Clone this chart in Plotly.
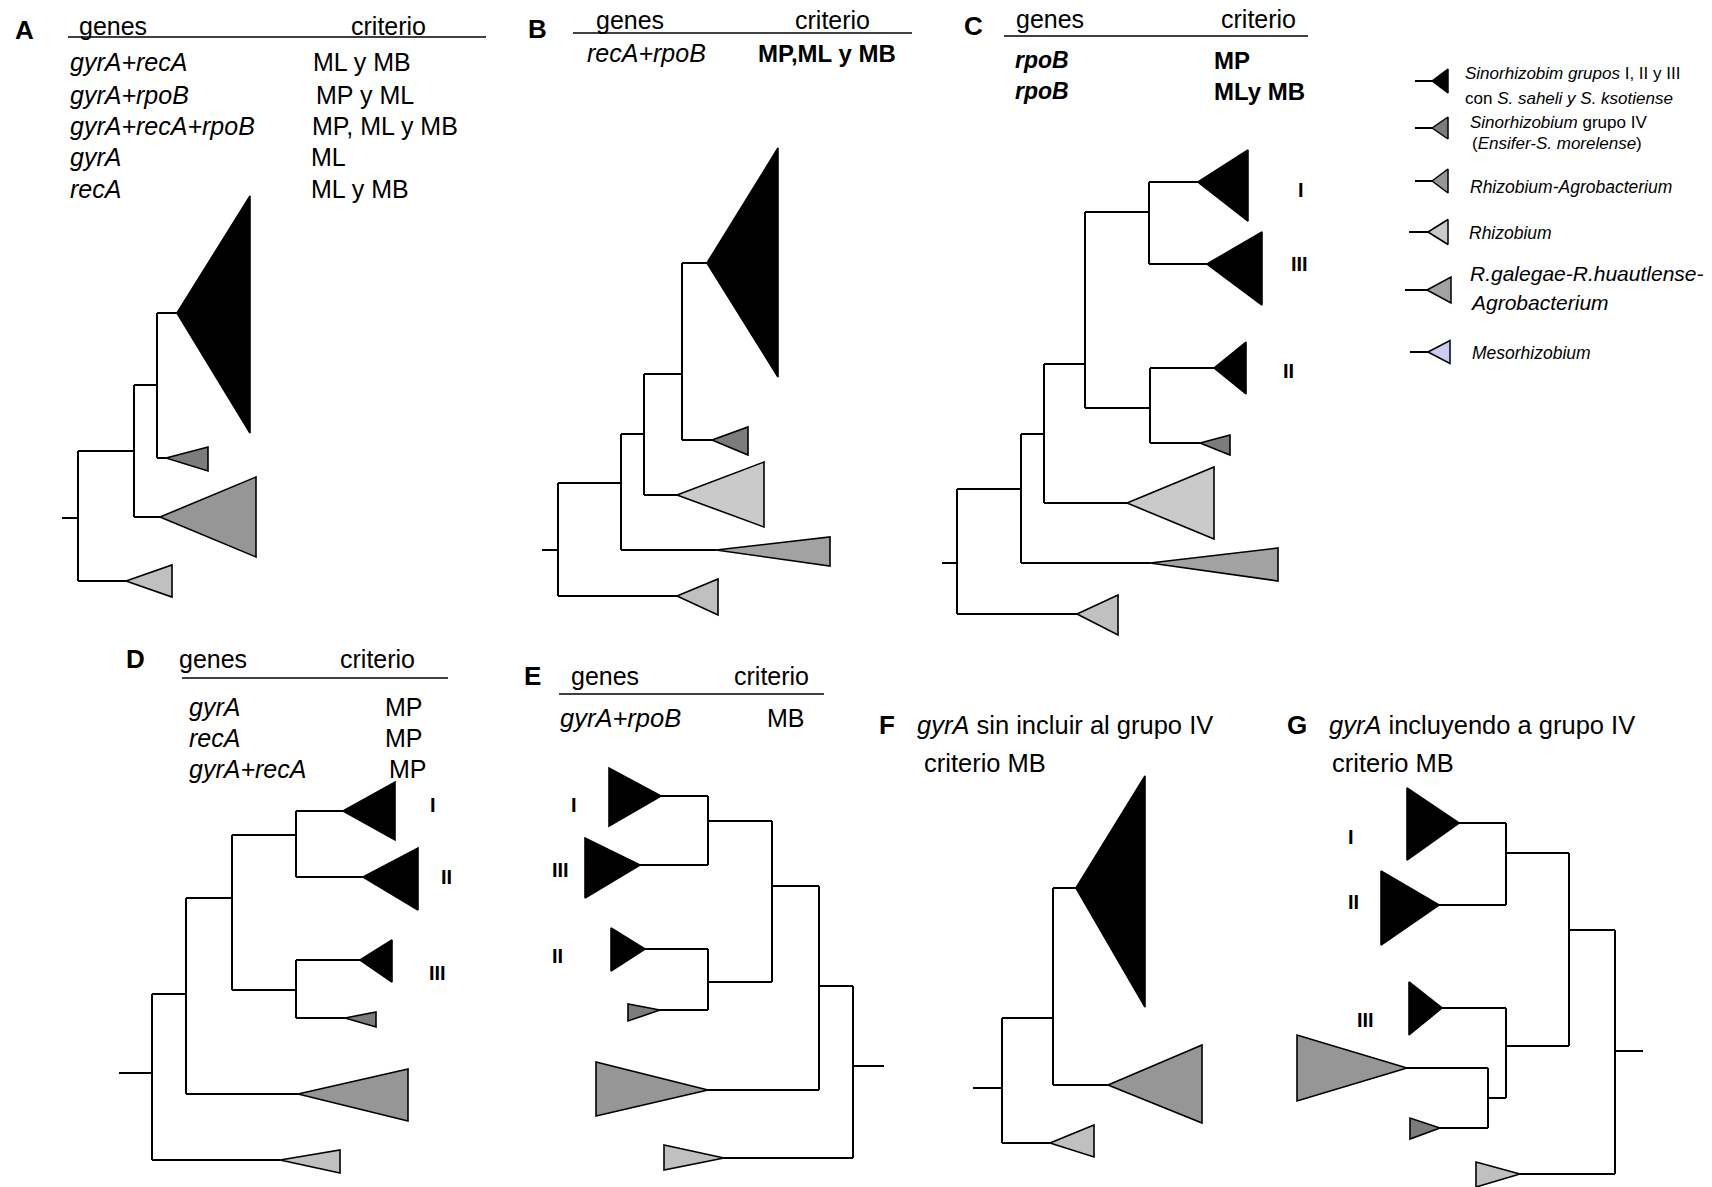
import plotly.graph_objects as go

W, H = 1712, 1187

# ---------------- data ----------------
CLADE_COLORS = {"S": "#000000", "IV": "#7c7c7c", "RA": "#969696", "Rh": "#cacaca",
                "RG": "#a2a2a2", "Out": "#c0c0c0", "Me": "#ccccf4"}

# Each tree: parent index, node depth (x) and node row (y); collapsed clades with base extent
A_parent = [-1, 0, 0, 2, 2, 4, 4]
A_node_x = [78, 126, 134, 160, 157, 177, 166]
A_node_y = [518, 581, 451, 517, 385, 313, 458]
A_clade = [None, "Out", None, "RA", None, "S", "IV"]
A_base_x = [None, 172, None, 256, None, 250, 208]
A_base_lo = [None, 565, None, 477, None, 196, 447]
A_base_hi = [None, 597, None, 557, None, 433, 471]

B_parent = [-1, 0, 0, 2, 2, 4, 4, 6, 6]
B_node_x = [558, 677, 621, 716, 644, 677, 682, 707, 712]
B_node_y = [550, 596, 483, 550, 434, 495, 374, 263, 440]
B_clade = [None, "Out", None, "RG", None, "Rh", None, "S", "IV"]
B_base_x = [None, 718, None, 830, None, 764, None, 778, 748]
B_base_lo = [None, 579, None, 537, None, 462, None, 148, 427]
B_base_hi = [None, 615, None, 566, None, 527, None, 377, 455]

C_parent = [-1, 0, 0, 2, 2, 4, 4, 6, 7, 7, 6, 10, 10]
C_node_x = [957, 1077, 1021, 1150, 1044, 1127, 1085, 1149, 1198, 1207, 1150, 1214, 1200]
C_node_y = [563, 614, 489, 563, 434, 503, 364, 212, 182, 264, 408, 368, 443]
C_clade = [None, "Out", None, "RG", None, "Rh", None, None, "S", "S", None, "S", "IV"]
C_base_x = [None, 1118, None, 1278, None, 1214, None, None, 1248, 1262, None, 1246, 1230]
C_base_lo = [None, 595, None, 548, None, 467, None, None, 150, 232, None, 342, 435]
C_base_hi = [None, 635, None, 581, None, 539, None, None, 221, 305, None, 394, 455]

D_parent = [-1, 0, 0, 2, 2, 4, 5, 5, 4, 8, 8]
D_node_x = [152, 280, 186, 298, 232, 296, 343, 363, 296, 360, 345]
D_node_y = [1073, 1160, 994, 1094, 898, 835, 811, 877, 990, 960, 1018]
D_clade = [None, "Out", None, "RA", None, None, "S", "S", None, "S", "IV"]
D_base_x = [None, 340, None, 408, None, None, 395, 418, None, 392, 376]
D_base_lo = [None, 1150, None, 1069, None, None, 782, 848, None, 940, 1012]
D_base_hi = [None, 1173, None, 1121, None, None, 840, 910, None, 982, 1027]

E_parent = [-1, 0, 0, 2, 2, 4, 5, 5, 4, 8, 8]
E_node_x = [853, 724, 819, 708, 772, 708, 661, 640, 708, 645, 660]
E_node_y = [1066, 1158, 986, 1090, 886, 821, 796, 865, 982, 949, 1010]
E_clade = [None, "Out", None, "RA", None, None, "S", "S", None, "S", "IV"]
E_base_x = [None, 664, None, 596, None, None, 609, 585, None, 611, 628]
E_base_lo = [None, 1145, None, 1062, None, None, 768, 838, None, 928, 1004]
E_base_hi = [None, 1170, None, 1116, None, None, 826, 898, None, 971, 1021]

F_parent = [-1, 0, 0, 2, 2]
F_node_x = [1002, 1050, 1053, 1108, 1076]
F_node_y = [1088, 1143, 1018, 1085, 888]
F_clade = [None, "Out", None, "RA", "S"]
F_base_x = [None, 1094, None, 1202, 1145]
F_base_lo = [None, 1125, None, 1045, 776]
F_base_hi = [None, 1157, None, 1123, 1007]

G_parent = [-1, 0, 0, 2, 3, 3, 2, 6, 6, 8, 8]
G_node_x = [1615, 1520, 1569, 1506, 1459, 1439, 1506, 1442, 1488, 1407, 1440]
G_node_y = [1051, 1174, 930, 853, 823, 905, 1046, 1008, 1098, 1068, 1128]
G_clade = [None, "Out", None, None, "S", "S", None, "S", None, "RA", "IV"]
G_base_x = [None, 1476, None, None, 1407, 1381, None, 1409, None, 1297, 1410]
G_base_lo = [None, 1162, None, None, 788, 871, None, 982, None, 1035, 1118]
G_base_hi = [None, 1187, None, None, 860, 945, None, 1035, None, 1101, 1139]

ROOT_STUB = {"A": 62, "B": 542, "C": 942, "D": 119, "E": 884, "F": 973, "G": 1643}

# Header tables
A_genes = ["gyrA+recA", "gyrA+rpoB", "gyrA+recA+rpoB", "gyrA", "recA"]
A_crit = ["ML y MB", "MP y ML", "MP, ML y MB", "ML", "ML y MB"]
B_genes = ["recA+rpoB"]
B_crit = ["MP,ML y MB"]
C_genes = ["rpoB", "rpoB"]
C_crit = ["MP", "MLy MB"]
D_genes = ["gyrA", "recA", "gyrA+recA"]
D_crit = ["MP", "MP", "MP"]
E_genes = ["gyrA+rpoB"]
E_crit = ["MB"]

# Roman numeral group labels (panel, label, x, y)
GROUP_LABELS = [("C", "I", 1301, 190), ("C", "III", 1299, 264), ("C", "II", 1288, 371),
                ("D", "I", 433, 805), ("D", "II", 446, 877), ("D", "III", 437, 973),
                ("E", "I", 574, 805), ("E", "III", 560, 870), ("E", "II", 557, 956),
                ("G", "I", 1351, 837), ("G", "II", 1353, 902), ("G", "III", 1365, 1020)]

# Legend
LEG_clade = ["S", "IV", "RA", "Rh", "RG", "Me"]
LEG_y = [81, 128, 181, 232, 290, 352]

# ---------------- figure ----------------
fig = go.Figure()


def draw_tree(key, parent, nx, ny, clade, bx, blo, bhi):
    lx, ly = [], []
    for i, p in enumerate(parent):
        if p < 0:
            lx += [ROOT_STUB[key], nx[i], None]
        else:
            lx += [nx[p], nx[i], None]
        ly += [ny[i], ny[i], None]
        kids = [j for j, q in enumerate(parent) if q == i]
        if kids:
            ys = [ny[j] for j in kids]
            lx += [nx[i], nx[i], None]
            ly += [min(ys), max(ys), None]
    fig.add_trace(go.Scatter(x=lx, y=ly, mode="lines", line=dict(color="black", width=2),
                             hoverinfo="skip", showlegend=False))
    for i, c in enumerate(clade):
        if c is None:
            continue
        fig.add_trace(go.Scatter(x=[nx[i], bx[i], bx[i], nx[i]],
                                 y=[ny[i], blo[i], bhi[i], ny[i]],
                                 mode="lines", fill="toself", fillcolor=CLADE_COLORS[c],
                                 line=dict(color="black", width=1.6),
                                 hoverinfo="skip", showlegend=False))


draw_tree("A", A_parent, A_node_x, A_node_y, A_clade, A_base_x, A_base_lo, A_base_hi)
draw_tree("B", B_parent, B_node_x, B_node_y, B_clade, B_base_x, B_base_lo, B_base_hi)
draw_tree("C", C_parent, C_node_x, C_node_y, C_clade, C_base_x, C_base_lo, C_base_hi)
draw_tree("D", D_parent, D_node_x, D_node_y, D_clade, D_base_x, D_base_lo, D_base_hi)
draw_tree("E", E_parent, E_node_x, E_node_y, E_clade, E_base_x, E_base_lo, E_base_hi)
draw_tree("F", F_parent, F_node_x, F_node_y, F_clade, F_base_x, F_base_lo, F_base_hi)
draw_tree("G", G_parent, G_node_x, G_node_y, G_clade, G_base_x, G_base_lo, G_base_hi)

# legend symbols
LEG_stub = [1415, 1415, 1415, 1409, 1405, 1410]
LEG_apex = [1432, 1432, 1432, 1428, 1427, 1428]
LEG_base = [1448, 1448, 1448, 1448, 1451, 1450]
LEG_half = [12, 11, 12, 12.5, 13, 11.5]
for c, y, s, a, b, h in zip(LEG_clade, LEG_y, LEG_stub, LEG_apex, LEG_base, LEG_half):
    fig.add_trace(go.Scatter(x=[s, a], y=[y, y], mode="lines", line=dict(color="black", width=2),
                             hoverinfo="skip", showlegend=False))
    fig.add_trace(go.Scatter(x=[a, b, b, a], y=[y, y - h, y + h, y], mode="lines", fill="toself",
                             fillcolor=CLADE_COLORS[c], line=dict(color="black", width=1.5),
                             hoverinfo="skip", showlegend=False))

ann = []
shapes = []
FONT = "Liberation Sans, Arial"


def txt(x, y, s, size, anchor="left"):
    ann.append(dict(x=x, y=y, xref="x", yref="y", text=s, showarrow=False, xanchor=anchor,
                    yanchor="middle", font=dict(family=FONT, size=size, color="black")))


def hline(x0, x1, y):
    shapes.append(dict(type="line", xref="x", yref="y", x0=x0, x1=x1, y0=y, y1=y,
                       line=dict(color="black", width=1.5)))


# panel letters
for L, x, y in [("A", 24, 30), ("B", 537, 29), ("C", 973, 26), ("D", 135, 659),
                ("E", 532, 676), ("F", 887, 725), ("G", 1297, 725)]:
    txt(x, y, "<b>%s</b>" % L, 26, "center")

# Panel A header
hline(68, 486, 37)
txt(113, 26, "genes", 25, "center")
txt(388, 26, "criterio", 25, "center")
A_row_y = [62, 95, 126, 157, 189]
A_crit_x = [311, 314, 310, 309, 309]
for g, c, y, cx in zip(A_genes, A_crit, A_row_y, A_crit_x):
    txt(68, y, "<i>%s</i>" % g, 25)
    txt(cx, y, c, 25)

# Panel B header
hline(573, 912, 33)
txt(630, 20, "genes", 25, "center")
txt(832, 20, "criterio", 25, "center")
for g, c in zip(B_genes, B_crit):
    txt(585, 53, "<i>%s</i>" % g, 25)
    txt(756, 53, "<b>%s</b>" % c, 24)

# Panel C header
hline(1004, 1308, 36)
txt(1050, 19, "genes", 25, "center")
txt(1258, 19, "criterio", 25, "center")
for g, c, y in zip(C_genes, C_crit, [60, 91]):
    txt(1013, y, "<b><i>%s</i></b>" % g, 23)
    txt(1212, y, "<b>%s</b>" % c, 24)

# Panel D header
hline(182, 448, 678)
txt(213, 659, "genes", 25, "center")
txt(377, 659, "criterio", 25, "center")
for g, c, y, cx in zip(D_genes, D_crit, [707, 738, 769], [383, 383, 387]):
    txt(187, y, "<i>%s</i>" % g, 25)
    txt(cx, y, c, 25)

# Panel E header
hline(559, 824, 694)
txt(605, 676, "genes", 25, "center")
txt(771, 676, "criterio", 25, "center")
for g, c in zip(E_genes, E_crit):
    txt(558, 718, "<i>%s</i>" % g, 25.5)
    txt(765, 718, c, 25)

# Panels F, G titles
txt(915, 725, "<i>gyrA</i> sin incluir al grupo IV", 25.5)
txt(922, 763, "criterio MB", 25.5)
txt(1327, 725, "<i>gyrA</i> incluyendo a grupo IV", 25.5)
txt(1330, 763, "criterio MB", 25.5)

# group labels
for p, s, x, y in GROUP_LABELS:
    txt(x, y, "<b>%s</b>" % s, 20, "center")

# legend text
LEG_lines = [
    (1463, 73, "<i>Sinorhizobim grupos</i> I, II y III", 17),
    (1463, 98, "con <i>S. saheli y S. ksotiense</i>", 17),
    (1468, 122, "<i>Sinorhizobium</i> grupo IV", 17),
    (1470, 143, "(<i>Ensifer-S. morelense</i>)", 17),
    (1468, 187, "<i>Rhizobium-Agrobacterium</i>", 17.5),
    (1467, 233, "<i>Rhizobium</i>", 17.5),
    (1468, 273, "<i>R.galegae-R.huautlense-</i>", 21),
    (1468, 302, "<i>Agrobacterium</i>", 21),
    (1470, 353, "<i>Mesorhizobium</i>", 17.5),
]
for x, y, s, sz in LEG_lines:
    txt(x, y, s, sz)

fig.update_layout(
    width=W, height=H, margin=dict(l=0, r=0, t=0, b=0),
    paper_bgcolor="white", plot_bgcolor="white",
    xaxis=dict(range=[0, W], visible=False, fixedrange=True),
    yaxis=dict(range=[H, 0], visible=False, fixedrange=True),
    annotations=ann, shapes=shapes, showlegend=False,
)

fig.write_html("out.html", config={"displayModeBar": False},
               post_script="document.body.style.margin='0';")
